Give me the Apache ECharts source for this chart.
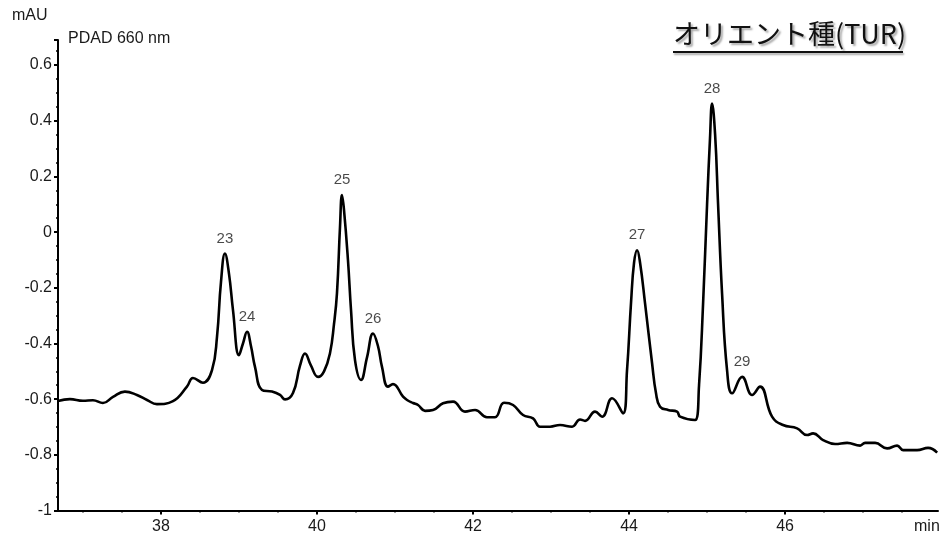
<!DOCTYPE html>
<html><head><meta charset="utf-8">
<script src="https://cdn.jsdelivr.net/npm/echarts@6/dist/echarts.min.js"></script>
<style>html,body{margin:0;padding:0;background:#fff}#c{width:952px;height:541px}</style>
</head><body><div id="c"></div>
<script>
const times = [36.68,36.833,37.0,37.128,37.256,37.385,37.538,37.692,37.821,37.949,38.154,38.333,38.41,38.538,38.654,38.718,38.769,38.82,38.872,38.923,39.0,39.051,39.103,39.154,39.205,39.295,39.423,39.526,39.59,39.692,39.782,39.846,39.923,40.013,40.09,40.167,40.218,40.256,40.295,40.32,40.346,40.397,40.436,40.487,40.564,40.641,40.718,40.782,40.833,40.91,40.974,41.103,41.154,41.231,41.295,41.385,41.487,41.615,41.744,41.897,42.026,42.179,42.282,42.397,42.513,42.641,42.769,42.859,42.987,43.115,43.269,43.372,43.436,43.564,43.654,43.782,43.923,43.974,44.026,44.064,44.103,44.141,44.205,44.295,44.346,44.397,44.5,44.615,44.654,44.846,44.897,44.949,45.0,45.038,45.064,45.103,45.141,45.192,45.256,45.321,45.449,45.577,45.679,45.833,45.974,46.154,46.282,46.359,46.487,46.641,46.795,46.962,47.026,47.154,47.308,47.436,47.513,47.692,47.833,47.949];
const absorbance = [-0.607,-0.600,-0.606,-0.604,-0.614,-0.592,-0.573,-0.585,-0.603,-0.618,-0.607,-0.555,-0.524,-0.541,-0.496,-0.376,-0.18,-0.077,-0.15,-0.28,-0.442,-0.40,-0.358,-0.41,-0.484,-0.567,-0.573,-0.585,-0.601,-0.578,-0.48,-0.436,-0.48,-0.520,-0.50,-0.434,-0.33,-0.219,0.02,0.133,0.08,-0.101,-0.28,-0.460,-0.531,-0.45,-0.364,-0.41,-0.484,-0.555,-0.546,-0.591,-0.603,-0.614,-0.621,-0.642,-0.639,-0.615,-0.609,-0.645,-0.639,-0.665,-0.665,-0.613,-0.621,-0.657,-0.669,-0.699,-0.699,-0.693,-0.699,-0.673,-0.678,-0.645,-0.663,-0.597,-0.651,-0.496,-0.25,-0.11,-0.065,-0.11,-0.256,-0.471,-0.58,-0.627,-0.639,-0.645,-0.663,-0.675,-0.55,-0.255,0.10,0.34,0.462,0.35,0.10,-0.22,-0.496,-0.579,-0.520,-0.585,-0.555,-0.663,-0.693,-0.705,-0.729,-0.723,-0.747,-0.761,-0.757,-0.767,-0.757,-0.757,-0.777,-0.767,-0.783,-0.783,-0.775,-0.792];
const peakNames = ['23','24','25','26','27','28','29'];
const peakTimes = [38.82,39.103,40.32,40.718,44.103,45.064,45.449];
const peakValues = [-0.077,-0.358,0.133,-0.364,-0.065,0.462,-0.520];
const xLabelValues = [38,40,42,44,46];
const xMinorValues = [37,37.5,38.5,39,39.5,40.5,41,41.5,42.5,43,43.5,44.5,45,45.5,46.5,47,47.5];

const chart = echarts.init(document.getElementById('c'), null, {renderer:'canvas'});
const font = 'Liberation Sans, Arial, sans-serif';
const xMin = 36.68, xMax = 47.96;
chart.setOption({
  animation:false,
  grid:{left:58,right:14,top:40,bottom:30.5,containLabel:false},
  xAxis:[{
    type:'value',min:xMin,max:xMax,
    axisLine:{onZero:false,lineStyle:{color:'#000',width:2}},
    axisTick:{customValues:xLabelValues,length:4,lineStyle:{color:'#000',width:2}},
    axisLabel:{customValues:xLabelValues,color:'#1a1a1a',fontSize:16,fontFamily:font,margin:8},
    splitLine:{show:false}
  },{
    type:'value',min:xMin,max:xMax,position:'bottom',
    axisLine:{show:false,onZero:false},
    axisTick:{customValues:xMinorValues,length:2,lineStyle:{color:'#000',width:1.5}},
    axisLabel:{show:false},splitLine:{show:false}
  }],
  yAxis:{
    type:'value',min:-1,max:0.69,interval:0.2,
    axisLine:{show:true,onZero:false,lineStyle:{color:'#000',width:2}},
    axisTick:{show:true,length:4,lineStyle:{color:'#000',width:2}},
    minorTick:{show:true,splitNumber:4,length:2,lineStyle:{color:'#000',width:1.5}},
    axisLabel:{color:'#1a1a1a',fontSize:16,fontFamily:font,margin:6,showMaxLabel:false,
      formatter:v=>String(Number(v.toFixed(2)))},
    splitLine:{show:false}
  },
  series:[{
    type:'line',xAxisIndex:0,
    data:times.map((t,i)=>[t,absorbance[i]]),
    showSymbol:false,smooth:0.45,
    lineStyle:{color:'#000',width:2.6}
  },{
    type:'scatter',xAxisIndex:0,
    data:peakTimes.map((t,i)=>({value:[t,peakValues[i]],name:peakNames[i]})),
    symbolSize:1,itemStyle:{color:'rgba(0,0,0,0)'},
    label:{show:true,position:'top',distance:7,formatter:p=>p.name,color:'#1a1a1a',fontSize:15,fontFamily:font}
  }],
  graphic:[
    {type:'text',left:12,top:8,style:{text:'mAU',font:'16px '+font,fill:'#1a1a1a'}},
    {type:'text',left:68,top:31,style:{text:'PDAD 660 nm',font:'16px '+font,fill:'#1a1a1a'}},
    {type:'text',left:914,top:519,style:{text:'min',font:'16px '+font,fill:'#1a1a1a'}},
    {type:'text',left:673,top:20,style:{text:'オリエント種(TUR)',font:'27px "Noto Sans CJK JP", sans-serif',fill:'#111',
      textShadowColor:'rgba(0,0,0,0.35)',textShadowOffsetX:2,textShadowOffsetY:2,textShadowBlur:2}},
    {type:'line',shape:{x1:673,y1:52,x2:903,y2:52},style:{stroke:'#111',lineWidth:2,shadowColor:'rgba(0,0,0,0.35)',shadowOffsetX:1,shadowOffsetY:2,shadowBlur:2}}
  ]
});
</script></body></html>
